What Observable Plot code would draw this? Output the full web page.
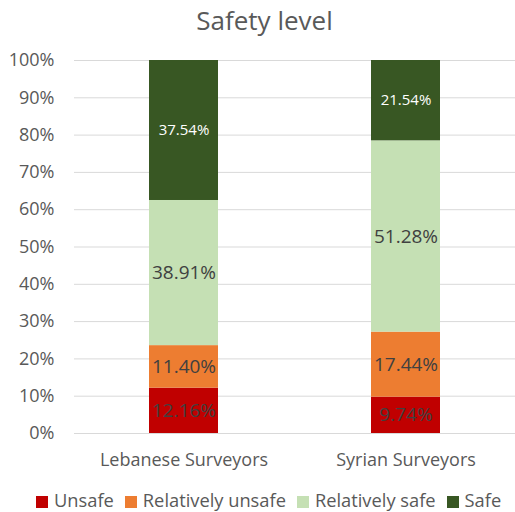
<!DOCTYPE html>
<html>
<head>
<meta charset="utf-8">
<script src="https://cdn.jsdelivr.net/npm/d3@7"></script>
<script src="https://cdn.jsdelivr.net/npm/@observablehq/plot@0.6"></script>
<style>
  html, body { margin: 0; padding: 0; background: #fff; }
  #wrap { width: 515px; height: 512px; font-family: "Open Sans", sans-serif; color: #595959; }
  #title { height: 40px; line-height: 40px; font-size: 26px; text-align: center; padding-left: 14px; }
  #legend { height: 27px; line-height: 29px; font-size: 18.3px; white-space: nowrap; padding-left: 36px; }
  #legend span.item { margin-right: 11px; }
  #legend span.sw { display: inline-block; width: 12px; height: 12px; margin-right: 6px; vertical-align: -1px; }
  svg { display: block; }
</style>
</head>
<body>
<div id="wrap">
  <div id="title">Safety level</div>
  <div id="chart"></div>
  <div id="legend"></div>
</div>
<script>
const categories = ["Lebanese Surveyors", "Syrian Surveyors"];
const seriesNames = ["Unsafe", "Relatively unsafe", "Relatively safe", "Safe"];
const seriesColors = ["#C00000", "#ED7D31", "#C5E0B4", "#385723"];
const unsafe = [12.16, 9.74];
const relativelyUnsafe = [11.40, 17.44];
const relativelySafe = [38.91, 51.28];
const safe = [37.54, 21.54];
const yTicks = [0, 10, 20, 30, 40, 50, 60, 70, 80, 90, 100];

const seriesValues = [unsafe, relativelyUnsafe, relativelySafe, safe];
const data = [];
seriesNames.forEach((s, i) => {
  categories.forEach((c, j) => {
    data.push({ cat: c, series: s, value: seriesValues[i][j] });
  });
});
const fmt = v => v.toFixed(2) + "%";

const chart = Plot.plot({
  width: 515,
  height: 445,
  marginLeft: 74,
  marginRight: 0,
  marginTop: 20,
  marginBottom: 52,
  style: { fontFamily: "Open Sans, sans-serif", color: "#595959", background: "#fff" },
  x: { domain: categories, paddingInner: 0.689, paddingOuter: 0.3375, label: null, tickSize: 0, tickPadding: 20 },
  y: { domain: [0, 100], clamp: true, label: null },
  color: { domain: seriesNames, range: seriesColors },
  marks: [
    Plot.gridY(yTicks, { stroke: "#d9d9d9", strokeOpacity: 1, strokeWidth: 1 }),
    Plot.axisY(yTicks, { tickFormat: d => d + "%", tickSize: 0, tickPadding: 20, fontSize: 18, label: null }),
    Plot.axisX({ tickSize: 0, tickPadding: 20, fontSize: 18, label: null }),
    Plot.barY(data, { x: "cat", y: "value", fill: "series", z: "series" }),
    Plot.text(data, Plot.stackY({ x: "cat", y: "value", z: "series",
      text: d => d.series === "Safe" ? "" : fmt(d.value),
      fill: "#404040", fontSize: 19 })),
    Plot.text(data, Plot.stackY({ x: "cat", y: "value", z: "series",
      text: d => d.series === "Safe" ? fmt(d.value) : "",
      fill: "white", fontSize: 15 }))
  ]
});
document.getElementById("chart").appendChild(chart);

const legend = document.getElementById("legend");
seriesNames.forEach((s, i) => {
  const item = document.createElement("span");
  item.className = "item";
  const sw = document.createElement("span");
  sw.className = "sw";
  sw.style.background = seriesColors[i];
  item.appendChild(sw);
  item.appendChild(document.createTextNode(s));
  legend.appendChild(item);
});
</script>
</body>
</html>
